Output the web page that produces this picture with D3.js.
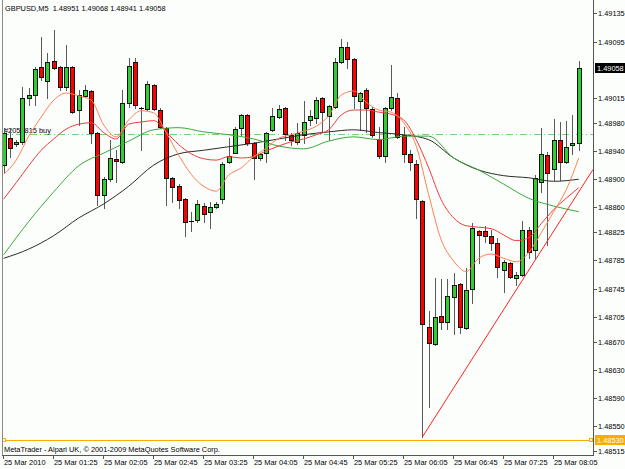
<!DOCTYPE html>
<html>
<head>
<meta charset="utf-8">
<script src="https://cdn.jsdelivr.net/npm/d3@7"></script>
<style>
  body { margin: 0; background: #fcfefc; }
  svg { display: block; }
  text { font-family: "Liberation Sans", Arial, sans-serif; font-size: 7.4px; fill: #000; white-space: pre; }
</style>
</head>
<body>
<script>
// Candles of GBPUSD M5, 25 Mar 2010 00:45 -> 08:25
const symbol = "GBPUSD,M5";
const opens = [
  1.48920, 1.48958, 1.48950, 1.48953, 1.49015, 1.49019, 1.49059, 1.49039, 1.49067, 1.49059,
  1.49031, 1.49059, 1.48998, 1.49018, 1.49025, 1.48966, 1.48878, 1.48900, 1.48929, 1.48924,
  1.49008, 1.49066, 1.49001, 1.48999, 1.49033, 1.48998, 1.48973, 1.48902, 1.48890, 1.48872,
  1.48841, 1.48842, 1.48862, 1.48854, 1.48861, 1.48872, 1.48924, 1.48937, 1.48973, 1.48991,
  1.48951, 1.48930, 1.48937, 1.48970, 1.48988, 1.49001, 1.48963, 1.48953, 1.48963, 1.48984,
  1.48987, 1.49015, 1.48990, 1.49002, 1.49066, 1.49087, 1.49070, 1.49011, 1.49026, 1.48999,
  1.48957, 1.48933, 1.49001, 1.49015, 1.48963, 1.48936, 1.48922, 1.48869, 1.48691, 1.48667,
  1.48706, 1.48698, 1.48733, 1.48752, 1.48689, 1.48744, 1.48827, 1.48827, 1.48820, 1.48810,
  1.48772, 1.48781, 1.48760, 1.48764, 1.48828, 1.48800, 1.48896, 1.48934, 1.48914, 1.48956,
  1.48924, 1.48949, 1.48951
];
const highs = [
  1.48973, 1.48973, 1.48955, 1.49031, 1.49029, 1.49059, 1.49101, 1.49079, 1.49111, 1.49060,
  1.49090, 1.49060, 1.49026, 1.49033, 1.49026, 1.48967, 1.48903, 1.48956, 1.48941, 1.49026,
  1.49072, 1.49072, 1.49002, 1.49039, 1.49035, 1.49001, 1.48974, 1.48903, 1.48893, 1.48873,
  1.48854, 1.48871, 1.48866, 1.48868, 1.48868, 1.48924, 1.48959, 1.48974, 1.48993, 1.48993,
  1.48953, 1.48937, 1.48967, 1.49001, 1.49005, 1.49002, 1.48966, 1.48980, 1.49011, 1.48998,
  1.49016, 1.49016, 1.49005, 1.49072, 1.49099, 1.49094, 1.49072, 1.49024, 1.49029, 1.49002,
  1.48974, 1.49002, 1.49062, 1.49022, 1.48974, 1.48941, 1.48927, 1.48871, 1.48714, 1.48760,
  1.48759, 1.48759, 1.48767, 1.48753, 1.48774, 1.48838, 1.48828, 1.48834, 1.48828, 1.48817,
  1.48786, 1.48783, 1.48769, 1.48841, 1.48832, 1.48906, 1.48973, 1.48939, 1.48985, 1.48981,
  1.48983, 1.48991, 1.49068
];
const lows = [
  1.48910, 1.48932, 1.48947, 1.48950, 1.49005, 1.49005, 1.49041, 1.49015, 1.49056, 1.49026,
  1.49026, 1.48994, 1.48977, 1.49016, 1.48951, 1.48864, 1.48859, 1.48898, 1.48896, 1.48923,
  1.49002, 1.49001, 1.48941, 1.48998, 1.48998, 1.48973, 1.48864, 1.48868, 1.48859, 1.48820,
  1.48827, 1.48839, 1.48839, 1.48831, 1.48859, 1.48866, 1.48923, 1.48937, 1.48963, 1.48949,
  1.48900, 1.48927, 1.48924, 1.48968, 1.48987, 1.48956, 1.48949, 1.48950, 1.48951, 1.48977,
  1.48980, 1.48968, 1.48956, 1.49001, 1.49065, 1.49058, 1.49001, 1.48970, 1.48967, 1.48960,
  1.48930, 1.48924, 1.48998, 1.48958, 1.48924, 1.48913, 1.48845, 1.48535, 1.48577, 1.48665,
  1.48688, 1.48688, 1.48681, 1.48682, 1.48688, 1.48725, 1.48781, 1.48811, 1.48800, 1.48762,
  1.48740, 1.48760, 1.48750, 1.48763, 1.48788, 1.48788, 1.48882, 1.48807, 1.48899, 1.48899,
  1.48923, 1.48935, 1.48941
];
const closes = [
  1.48966, 1.48944, 1.48953, 1.49015, 1.49019, 1.49056, 1.49045, 1.49066, 1.49058, 1.49031,
  1.49059, 1.48995, 1.49019, 1.49026, 1.48966, 1.48878, 1.48900, 1.48930, 1.48926, 1.49008,
  1.49060, 1.49005, 1.49001, 1.49035, 1.48999, 1.48974, 1.48902, 1.48889, 1.48871, 1.48839,
  1.48841, 1.48865, 1.48851, 1.48861, 1.48865, 1.48922, 1.48933, 1.48971, 1.48991, 1.48951,
  1.48930, 1.48936, 1.48966, 1.48990, 1.48999, 1.48964, 1.48956, 1.48966, 1.48981, 1.48990,
  1.49012, 1.48995, 1.49004, 1.49066, 1.49087, 1.49070, 1.49018, 1.49022, 1.49001, 1.48963,
  1.48933, 1.49001, 1.49016, 1.48960, 1.48936, 1.48924, 1.48872, 1.48695, 1.48668, 1.48705,
  1.48698, 1.48735, 1.48750, 1.48691, 1.48743, 1.48831, 1.48821, 1.48820, 1.48810, 1.48776,
  1.48783, 1.48762, 1.48764, 1.48828, 1.48797, 1.48902, 1.48936, 1.48909, 1.48956, 1.48924,
  1.48946, 1.48951, 1.49058
];

// Time axis labels (one every 8 bars) and price axis labels
const timeLabels = [
  "25 Mar 2010", "25 Mar 01:25", "25 Mar 02:05", "25 Mar 02:45", "25 Mar 03:25", "25 Mar 04:05",
  "25 Mar 04:45", "25 Mar 05:25", "25 Mar 06:05", "25 Mar 06:45", "25 Mar 07:25", "25 Mar 08:05"
];
const priceTicks = [
  1.49135, 1.49095, 1.49015, 1.48980, 1.48940, 1.48900, 1.48860, 1.48825,
  1.48785, 1.48745, 1.48705, 1.48670, 1.48630, 1.48590, 1.48550, 1.48515
];

// Moving averages (orange/red every 2 bars, green/black every 4 bars)
const maOrange = [
  1.48907, 1.48927, 1.48961, 1.48988, 1.49012, 1.49022, 1.49018, 1.49012, 1.48977, 1.48960,
  1.48984, 1.48997, 1.48994, 1.48966, 1.48934, 1.48907, 1.48890, 1.48883, 1.48906, 1.48916,
  1.48932, 1.48944, 1.48958, 1.48963, 1.48968, 1.48975, 1.48990, 1.49019, 1.49025, 1.49009,
  1.48998, 1.48995, 1.48980, 1.48947, 1.48878, 1.48814, 1.48784, 1.48769, 1.48788, 1.48794,
  1.48788, 1.48783, 1.48796, 1.48824, 1.48854, 1.48885, 1.48930
];
const maRed = [
  1.48872, 1.48895, 1.48919, 1.48941, 1.48957, 1.48971, 1.48978, 1.48980, 1.48966, 1.48957,
  1.48978, 1.48981, 1.48983, 1.48967, 1.48949, 1.48936, 1.48929, 1.48927, 1.48932, 1.48930,
  1.48932, 1.48940, 1.48947, 1.48953, 1.48957, 1.48963, 1.48970, 1.48991, 1.48998, 1.48998,
  1.48995, 1.48992, 1.48984, 1.48956, 1.48916, 1.48871, 1.48845, 1.48834, 1.48832, 1.48830,
  1.48821, 1.48813, 1.48817, 1.48837, 1.48857, 1.48873, 1.48888
];
const maGreen = [
  1.48793, 1.48840, 1.48882, 1.48919, 1.48937, 1.48954, 1.48970, 1.48973, 1.48967, 1.48963,
  1.48957, 1.48947, 1.48943, 1.48954, 1.48960, 1.48956, 1.48961, 1.48961, 1.48930, 1.48913,
  1.48893, 1.48873, 1.48862, 1.48854
];
const maBlack = [
  1.48788, 1.48801, 1.48820, 1.48845, 1.48865, 1.48890, 1.48920, 1.48936, 1.48941, 1.48946,
  1.48951, 1.48957, 1.48963, 1.48967, 1.48970, 1.48966, 1.48963, 1.48956, 1.48930, 1.48913,
  1.48905, 1.48902, 1.48897, 1.48900
];

// Objects on the chart
const orderPrice = 1.48964;
const orderLabel = "#2054815 buy";
const levelPrice = 1.48530;
const trendStart = { bar: 67, price: 1.48535 };
const trendEnd = { bar: 92, price: 1.48882 };
const copyright = "MetaTrader - Alpari UK, \u00a9 2001-2009 MetaQuotes Software Corp.";

// Layout of the MetaTrader window
const outerWidth = 625;
const outerHeight = 469;
const plot = { left: 2, right: 593, top: 0, bottom: 455 };

const svg = d3.select("body").append("svg")
    .attr("width", outerWidth)
    .attr("height", outerHeight);

svg.append("rect")
    .attr("width", outerWidth)
    .attr("height", outerHeight)
    .attr("fill", "#fcfefc");

// Scales: bar index -> x, price -> y
const x = d3.scaleLinear().domain([0, opens.length - 1]).range([3.7, 578.7]);
const y = d3.scaleLinear().domain([1.48515, 1.49135]).range([451, 13.3]);

const bars = opens.map((o, i) => ({ i, o, h: highs[i], l: lows[i], c: closes[i] }));
const last = bars[bars.length - 1];

// Order line (dash-dot) with its label, behind the candles
svg.append("line")
    .attr("x1", plot.left).attr("x2", plot.right)
    .attr("y1", Math.round(y(orderPrice)) + 0.5).attr("y2", Math.round(y(orderPrice)) + 0.5)
    .attr("stroke", "#6fd96f")
    .attr("stroke-dasharray", "7,3,1,3");

svg.append("text")
    .attr("x", 4)
    .attr("y", Math.round(y(orderPrice)) - 1.5)
    .text(orderLabel);

// Candles
const candles = svg.append("g");

candles.selectAll("line.wick")
    .data(bars)
    .join("line")
    .attr("class", "wick")
    .attr("x1", d => Math.round(x(d.i)) + 0.5)
    .attr("x2", d => Math.round(x(d.i)) + 0.5)
    .attr("y1", d => Math.round(y(d.h)))
    .attr("y2", d => Math.round(y(d.l)) + 1)
    .attr("stroke", "#5a5a5a");

candles.selectAll("rect.body")
    .data(bars.filter(d => d.o !== d.c))
    .join("rect")
    .attr("class", "body")
    .attr("x", d => Math.round(x(d.i)) - 1.5)
    .attr("y", d => Math.round(y(Math.max(d.o, d.c))) + 0.5)
    .attr("width", 4)
    .attr("height", d => Math.max(1, Math.round(y(Math.min(d.o, d.c))) - Math.round(y(Math.max(d.o, d.c)))))
    .attr("fill", d => d.c > d.o ? "#32cd32" : "#ff0000")
    .attr("stroke", "#111");

candles.selectAll("line.doji")
    .data(bars.filter(d => d.o === d.c))
    .join("line")
    .attr("class", "doji")
    .attr("x1", d => Math.round(x(d.i)) - 2)
    .attr("x2", d => Math.round(x(d.i)) + 3)
    .attr("y1", d => Math.round(y(d.c)) + 0.5)
    .attr("y2", d => Math.round(y(d.c)) + 0.5)
    .attr("stroke", "#000");

// Moving averages
const maLine = d3.line()
    .x(d => x(d.i))
    .y(d => y(d.v))
    .curve(d3.curveMonotoneX);

const maSeries = [
    { values: maBlack, step: 4, color: "#2b2b2b" },
    { values: maGreen, step: 4, color: "#3aa83a" },
    { values: maRed, step: 2, color: "#f23a3a" },
    { values: maOrange, step: 2, color: "#ff8052" }
];

svg.selectAll("path.ma")
    .data(maSeries)
    .join("path")
    .attr("class", "ma")
    .attr("d", s => maLine(s.values.map((v, k) => ({ i: k * s.step, v }))))
    .attr("fill", "none")
    .attr("stroke", s => s.color)
    .attr("stroke-width", 1);

// Trend line from the 06:05 low, extended to the right edge
const slope = (trendEnd.price - trendStart.price) / (trendEnd.bar - trendStart.bar);
const edgeBar = x.invert(plot.right);
svg.append("line")
    .attr("x1", x(trendStart.bar)).attr("y1", y(trendStart.price))
    .attr("x2", plot.right).attr("y2", y(trendStart.price + slope * (edgeBar - trendStart.bar)))
    .attr("stroke", "#ff2020")
    .attr("stroke-width", 1);

// Horizontal level with its anchor squares
const levelY = Math.round(y(levelPrice)) + 0.5;
svg.append("line")
    .attr("x1", plot.left).attr("x2", plot.right)
    .attr("y1", levelY).attr("y2", levelY)
    .attr("stroke", "#ffaa00");

[4, plot.right - 2].forEach(px => {
    svg.append("rect")
        .attr("x", px - 1.5).attr("y", levelY - 2)
        .attr("width", 3).attr("height", 3)
        .attr("fill", "#fcfefc")
        .attr("stroke", "#ffaa00");
});

// Frame: left edge, bottom axis line, right axis line
svg.append("line")
    .attr("x1", plot.left + 0.5).attr("x2", plot.left + 0.5)
    .attr("y1", plot.top).attr("y2", plot.bottom)
    .attr("stroke", "#8a8a8a");

svg.append("line")
    .attr("x1", plot.left).attr("x2", plot.right + 1)
    .attr("y1", plot.bottom + 0.5).attr("y2", plot.bottom + 0.5)
    .attr("stroke", "#555");

svg.append("line")
    .attr("x1", plot.right + 0.5).attr("x2", plot.right + 0.5)
    .attr("y1", plot.top).attr("y2", plot.bottom + 1)
    .attr("stroke", "#555");

// Price axis ticks and labels
const priceAxis = svg.append("g");
priceTicks.forEach(p => {
    const py = Math.round(y(p)) + 0.5;
    priceAxis.append("line")
        .attr("x1", plot.right).attr("x2", plot.right + 4)
        .attr("y1", py).attr("y2", py)
        .attr("stroke", "#555");
    priceAxis.append("text")
        .attr("x", 598)
        .attr("y", py + 2.5)
        .text(p.toFixed(5));
});

// Price boxes: last close (black) and the level (orange)
function priceBox(price, fill) {
    const py = y(price);
    svg.append("rect")
        .attr("x", 595).attr("y", Math.round(py) - 5)
        .attr("width", 30).attr("height", 10)
        .attr("fill", fill);
    svg.append("text")
        .attr("x", 597)
        .attr("y", Math.round(py) + 2.5)
        .style("fill", "#fff")
        .text(price.toFixed(5));
}
priceBox(last.c, "#000");
priceBox(levelPrice, "#ffaa00");

// Time axis ticks and labels
const timeAxis = svg.append("g");
timeLabels.forEach((label, k) => {
    const tx = Math.round(x(k * 8)) - 0.5;
    timeAxis.append("line")
        .attr("x1", tx).attr("x2", tx)
        .attr("y1", plot.bottom).attr("y2", plot.bottom + 4)
        .attr("stroke", "#555");
    timeAxis.append("text")
        .attr("x", tx + 0.5)
        .attr("y", 465)
        .text(label);
});

// Header with symbol and last bar OHLC, and the copyright line
svg.append("text")
    .attr("x", 5)
    .attr("y", 11)
    .text(`${symbol}  ${[last.o, last.h, last.l, last.c].map(v => v.toFixed(5)).join(" ")}`);

svg.append("text")
    .attr("x", 4)
    .attr("y", 452)
    .text(copyright);
</script>
</body>
</html>
